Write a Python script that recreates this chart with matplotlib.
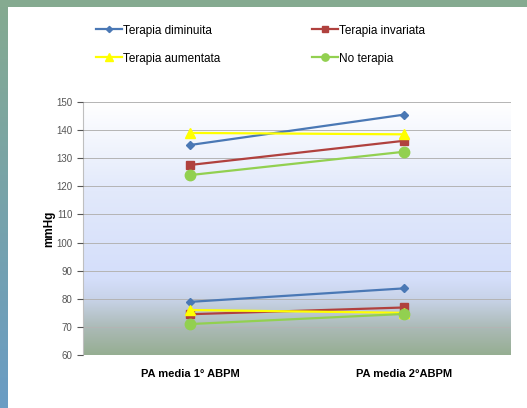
import numpy as np
import matplotlib
matplotlib.use("Agg")
from matplotlib import pyplot as plt
from matplotlib.colors import LinearSegmentedColormap
from matplotlib.lines import Line2D

categorie = ["PA media 1° ABPM", "PA media 2°ABPM"]

# pressione sistolica / diastolica per gruppo
diminuita_sist = [134.7, 145.5]
diminuita_diast = [78.9, 83.7]
invariata_sist = [127.6, 136.2]
invariata_diast = [74.5, 76.9]
aumentata_sist = [139.0, 138.5]
aumentata_diast = [76.0, 75.0]
noterapia_sist = [124.0, 132.3]
noterapia_diast = [71.0, 74.6]

serie = [
    ("Terapia diminuita", diminuita_sist, diminuita_diast, "#4a78b5", "D", 4.5),
    ("Terapia invariata", invariata_sist, invariata_diast, "#b0413e", "s", 6),
    ("Terapia aumentata", aumentata_sist, aumentata_diast, "#ffff00", "^", 7.5),
    ("No terapia", noterapia_sist, noterapia_diast, "#92d050", "o", 7.5),
]

fig = plt.figure(figsize=(5.27, 4.08), dpi=100)
fig.patch.set_facecolor("white")

# cornice verde/blu
W, H = 527, 408
bord = fig.add_axes([0, 0, 1, 1], zorder=-10)
cm_bordo = LinearSegmentedColormap.from_list("b", ["#85aa90", "#6a9cc4"])
grad = np.linspace(0, 1, 200).reshape(-1, 1)
bord.imshow(grad, cmap=cm_bordo, extent=[0, 8, H, 0], aspect="auto")
bord.fill_between([0, W], 0, 7, color="#85aa90", lw=0)
bord.set_xlim(0, W)
bord.set_ylim(H, 0)
bord.axis("off")

ax = fig.add_axes([83 / W, 1 - 355 / H, 428 / W, 253 / H])
x = np.arange(len(categorie))

# sfondo sfumato dell'area del grafico
cm_sfondo = LinearSegmentedColormap.from_list("s", [
    (0.0, "#96ae92"), (0.10, "#aab9b4"), (0.22, "#c8d3e8"), (0.30, "#d4defa"),
    (0.65, "#e2e9fb"), (1.0, "#ffffff")])
ax.imshow(np.linspace(0, 1, 256).reshape(-1, 1), cmap=cm_sfondo, origin="lower",
          extent=[-0.5, 1.5, 60, 150], aspect="auto", zorder=0)

for nome, sist, diast, col, mk, ms in serie:
    for vals in (sist, diast):
        ax.plot(x, vals, color=col, marker=mk, markersize=ms, lw=1.6, zorder=3)

ax.set_xlim(-0.5, 1.5)
ax.set_ylim(60, 150)
ax.set_yticks(np.arange(60, 151, 10))
ax.yaxis.grid(True, color="#b4b4b4", lw=0.7, zorder=1)
ax.set_axisbelow(False)
ax.set_xticks(x)
ax.set_xticklabels(categorie, fontsize=8, fontweight="bold", family="Liberation Sans")
ax.tick_params(axis="x", length=0, pad=10)
ax.tick_params(axis="y", labelsize=7, colors="#555555", length=4, direction="out")
for lab in ax.get_yticklabels():
    lab.set_family("Liberation Sans")
for s in ["top", "right", "bottom"]:
    ax.spines[s].set_visible(False)
ax.spines["left"].set_color("#bfbfbf")
ax.set_ylabel("mmHg", fontsize=8.5, fontweight="bold", family="Liberation Sans")
ax.yaxis.set_label_coords(-0.066, 0.5)

handles = [Line2D([0], [0], color=col, marker=mk, markersize=ms * 0.7, lw=1.6)
           for nome, sist, diast, col, mk, ms in serie]
etichette = [s[0] for s in serie]
ordine = [0, 2, 1, 3]  # la legenda si riempie per colonne
fig.legend([handles[i] for i in ordine], [etichette[i] for i in ordine], ncol=2,
           loc="upper left", bbox_to_anchor=(85 / W, 1 - 14 / H), frameon=False,
           prop={"family": "Liberation Sans", "size": 8.5},
           handlelength=2.2, handletextpad=0.1, columnspacing=7.8, labelspacing=1.35)

fig.savefig("out.png", dpi=100)
